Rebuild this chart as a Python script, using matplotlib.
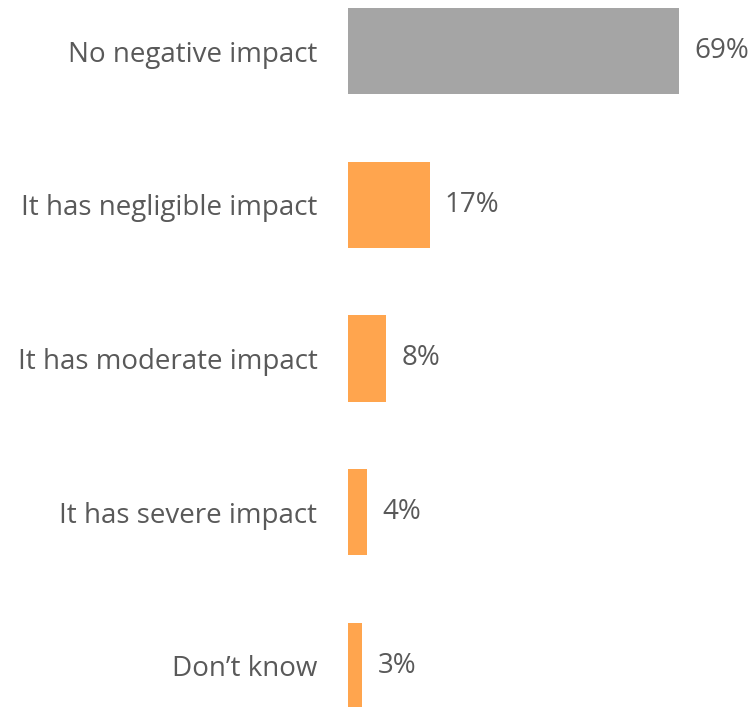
import matplotlib
matplotlib.use('Agg')
import matplotlib.pyplot as plt

categories = ["No negative impact", "It has negligible impact", "It has moderate impact",
              "It has severe impact", "Don\u2019t know"]
values = [69, 17, 8, 4, 3]
colors = ["#A5A5A5", "#FFA54E", "#FFA54E", "#FFA54E", "#FFA54E"]

plt.rcParams['font.family'] = ['Open Sans', 'DejaVu Sans']

fig = plt.figure(figsize=(7.53, 7.07), dpi=100)
ax = fig.add_axes([348 / 753, 0, 1 - 348 / 753, 1])

pos = list(range(len(categories)))
ax.barh(pos, values, height=0.56, color=colors)
ax.set_ylim(4.267, -0.332)
ax.set_xlim(0, 405 / 4.8)

for p, v in zip(pos, values):
    ax.annotate(f"{v}%", (v, p), xytext=(11, 0), textcoords='offset points',
                ha='left', va='center', fontsize=20, color='#595959')

ax.set_yticks(pos)
ax.set_yticklabels(categories, fontsize=20, color='#595959')
ax.tick_params(axis='y', length=0, pad=22)
ax.set_xticks([])
for s in ax.spines.values():
    s.set_visible(False)

fig.savefig("out.png", dpi=100)
